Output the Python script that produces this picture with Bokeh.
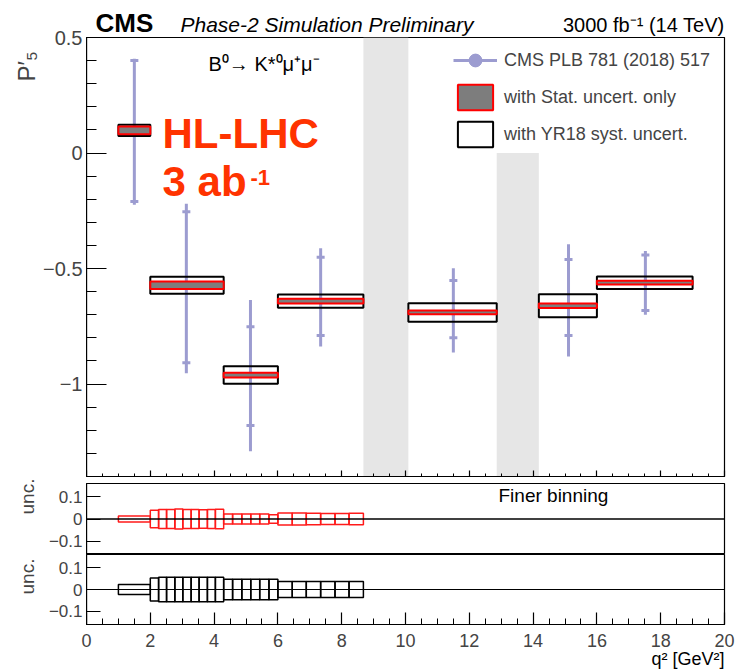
import numpy as np
from bokeh.plotting import figure
from bokeh.models import (Range1d, Label, Legend, LegendItem, Span,
                          FixedTicker, SingleIntervalTicker, CustomJSTickFormatter)
from bokeh.layouts import column, row
from bokeh.embed import file_html
from bokeh.resources import INLINE

FONT = "Liberation Sans"

# ---------------- data ----------------
# projected P5' measurement bins (q^2 in GeV^2)
bin_lo = [1.0, 2.0, 4.3, 6.0, 10.09, 14.18, 16.0]
bin_hi = [2.0, 4.3, 6.0, 8.68, 12.86, 16.0, 19.0]
p5_center = [0.098, -0.572, -0.961, -0.641, -0.690, -0.661, -0.561]
stat_half = [0.017, 0.016, 0.010, 0.010, 0.008, 0.010, 0.008]
syst_half = [0.024, 0.037, 0.038, 0.029, 0.040, 0.050, 0.027]

# CMS PLB 781 (2018) 517 measurement
cms_q2 = [1.50, 3.13, 5.14, 7.34, 11.50, 15.11, 17.52]
cms_p5 = [0.098, -0.572, -0.961, -0.641, -0.690, -0.661, -0.561]
cms_tot_hi = [0.408, -0.219, -0.636, -0.412, -0.499, -0.395, -0.424]
cms_tot_lo = [-0.224, -0.953, -1.291, -0.837, -0.863, -0.881, -0.700]
cms_stat_hi = [0.400, -0.254, -0.752, -0.451, -0.552, -0.461, -0.441]
cms_stat_lo = [-0.210, -0.908, -1.179, -0.790, -0.800, -0.790, -0.682]

# vetoed q^2 regions (J/psi, psi(2S))
veto_lo = [8.68, 12.86]
veto_hi = [10.09, 14.18]
veto_top = [0.5, 0.0]

# finer binning uncertainties
fine_edges = [1.0, 2.0, 2.26, 2.51, 2.77, 3.02, 3.28, 3.53, 3.79, 4.04, 4.3,
              4.58, 4.87, 5.15, 5.43, 5.72, 6.0, 6.45, 6.89, 7.34, 7.79, 8.23, 8.68]
fine_stat_unc = [0.014,
                 0.039, 0.043, 0.043, 0.045, 0.043, 0.043, 0.042, 0.043, 0.044,
                 0.023, 0.023, 0.023, 0.023, 0.023, 0.019,
                 0.027, 0.027, 0.026, 0.025, 0.025, 0.026]
fine_syst_unc = [0.023,
                 0.053, 0.056, 0.056, 0.056, 0.056, 0.056, 0.056, 0.056, 0.056,
                 0.047, 0.047, 0.047, 0.047, 0.047, 0.047,
                 0.037, 0.037, 0.037, 0.037, 0.037, 0.037]

x_ticks_interval = 2
main_major_ticks = [-1, -0.5, 0, 0.5]
sub_major_ticks = [-0.1, 0, 0.1]

CMS_C = "#9c9cd0"
minus_fmt = CustomJSTickFormatter(code='return (tick < 0 ? "\u2212" : "") + Math.abs(tick).toString();')
blank_fmt = CustomJSTickFormatter(code='return "";')

x_range = Range1d(0, 20)
y_main = Range1d(-1.4, 0.5)
y_stat = Range1d(-0.16, 0.16)
y_syst = Range1d(-0.16, 0.16)

STRIP_W = 40      # strip holding the rotated axis titles
AXLAB_W = 46      # strip holding the y tick labels
LEFT_W = STRIP_W + AXLAB_W   # = frame left edge (86 px)
RIGHT_W = 735 - LEFT_W
BORDER_R = 11
HEADER_H = 37
P1_H = 446        # frame 439 + 7
P2_H = 71
P3_H = 72         # frame 70 + 2
TOP_H = HEADER_H + P1_H + P2_H + P3_H
FOOT_H = 672 - TOP_H
MID_OFF = 0.36    # label anchor is the text middle: baseline = anchor + MID_OFF * size


def style_common(p):
    p.grid.visible = False
    p.outline_line_color = "black"
    p.outline_line_width = 1.2
    p.background_fill_color = "white"
    p.border_fill_color = "white"


def plain(p):
    p.grid.visible = False
    p.outline_line_color = None
    p.background_fill_color = "white"
    p.border_fill_color = "white"


def add_label(p, text, x, base_y, size, style="normal", color="black", align="left"):
    """Horizontal text; base_y: baseline height above the frame bottom."""
    p.add_layout(Label(x=x, y=base_y + MID_OFF * size, x_units="screen", y_units="screen",
                       text=text, text_font=FONT, text_font_size=f"{size}px",
                       text_font_style=style, text_color=color, text_align=align,
                       text_baseline="middle"))


def add_vlabel(p, text, cx, cy, size):
    """Text rotated by 90 degrees, centred on (cx, cy) measured from the frame bottom-left."""
    p.add_layout(Label(x=cx, y=cy, x_units="screen", y_units="screen", text=text,
                       text_font=FONT, text_font_size=f"{size}px", text_align="center",
                       text_baseline="middle", angle=np.pi / 2))


def text_strip(w, h):
    s = figure(width=w, height=h, x_range=Range1d(0, w), y_range=Range1d(0, h),
               output_backend="svg", toolbar_location=None,
               x_axis_location=None, y_axis_location=None,
               min_border=0, min_border_left=0, min_border_right=0,
               min_border_top=0, min_border_bottom=0)
    plain(s)
    return s


def ticks_only(ax, tick_in, minor_in, ticker):
    ax.ticker = ticker
    ax.formatter = blank_fmt
    ax.major_label_text_font_size = "1px"
    ax.major_label_standoff = 0
    ax.major_tick_in = tick_in
    ax.major_tick_out = 0
    ax.minor_tick_in = minor_in
    ax.minor_tick_out = 0
    ax.axis_line_width = 1.2
    ax.major_tick_line_width = 1.2
    if minor_in == 0:
        ax.minor_tick_line_color = None


def labels_only(ax, ticker, size, standoff):
    ax.ticker = ticker
    ax.formatter = minus_fmt
    ax.axis_line_color = None
    ax.major_tick_line_color = None
    ax.minor_tick_line_color = None
    ax.major_tick_in = 0
    ax.major_tick_out = 0
    ax.minor_tick_in = 0
    ax.minor_tick_out = 0
    ax.major_label_text_font = FONT
    ax.major_label_text_font_size = f"{size}px"
    ax.major_label_standoff = standoff


def ylabel_fig(height, y_range, top, bottom, ticker, size):
    f = figure(width=AXLAB_W, height=height, x_range=Range1d(0, 1), y_range=y_range,
               output_backend="svg", toolbar_location=None, x_axis_location=None,
               min_border_left=AXLAB_W - 1, min_border_right=0,
               min_border_top=top, min_border_bottom=bottom)
    plain(f)
    labels_only(f.yaxis[0], ticker, size, 3)
    return f


main_ticker = FixedTicker(ticks=main_major_ticks,
                          minor_ticks=[round(v, 1) for v in np.arange(-1.4, 0.51, 0.1)])
sub_ticker = FixedTicker(ticks=sub_major_ticks, minor_ticks=[])
x_ticker = SingleIntervalTicker(interval=x_ticks_interval, num_minor_ticks=4)

# ---------------- main panel ----------------
p1 = figure(width=RIGHT_W, height=P1_H, x_range=x_range, y_range=y_main,
            output_backend="svg", toolbar_location=None,
            min_border_left=0, min_border_right=BORDER_R, min_border_top=0,
            min_border_bottom=7)
style_common(p1)

p1.quad(left=veto_lo, right=veto_hi, top=veto_top, bottom=-1.4,
        fill_color="#e6e6e6", line_color=None)

seg_r = p1.segment(x0=cms_q2, y0=cms_tot_lo, x1=cms_q2, y1=cms_tot_hi,
                   line_color=CMS_C, line_width=3)
p1.scatter(x=cms_q2 + cms_q2, y=cms_stat_hi + cms_stat_lo, marker="dash", size=8,
           line_color=CMS_C, line_width=3)
cross_r = p1.scatter(x=cms_q2, y=cms_p5, marker="cross", size=8, line_color=CMS_C, line_width=3)
circ_r = p1.scatter(x=cms_q2, y=cms_p5, marker="circle", size=5, fill_color=CMS_C,
                    line_color=CMS_C)

c = np.array(p5_center)
syst_r = p1.quad(left=bin_lo, right=bin_hi, top=c + np.array(syst_half),
                 bottom=c - np.array(syst_half), fill_color=None, line_color="black",
                 line_width=2)
stat_r = p1.quad(left=bin_lo, right=bin_hi, top=c + np.array(stat_half),
                 bottom=c - np.array(stat_half), fill_color="#7d7d7d", line_color="#ff0000",
                 line_width=2)

legend = Legend(items=[LegendItem(label="CMS PLB 781 (2018) 517", renderers=[seg_r, cross_r, circ_r]),
                       LegendItem(label="with Stat. uncert. only", renderers=[stat_r]),
                       LegendItem(label="with YR18 syst. uncert.", renderers=[syst_r])],
                location=(367, 326), glyph_width=44, glyph_height=32, label_height=32,
                spacing=5, padding=0, margin=0, label_standoff=7,
                label_text_font=FONT, label_text_font_size="18px",
                border_line_color=None, background_fill_alpha=0)
p1.add_layout(legend)

ticks_only(p1.yaxis[0], 20, 10, main_ticker)
ticks_only(p1.xaxis[0], 6, 3, x_ticker)

F1 = HEADER_H + 439  # page y of the main frame bottom
add_label(p1, "B\u2070\u2192 K*\u2070\u03bc\u207a\u03bc\u207b", 122, F1 - 71, 20)
add_label(p1, "HL-LHC", 76, F1 - 148, 42, style="bold", color="#ff3300")
add_label(p1, "3 ab", 76, F1 - 196, 42, style="bold", color="#ff3300")
add_label(p1, "-1", 164, F1 - 185, 22, style="bold", color="#ff3300")


# ---------------- ratio panels ----------------
def sub_panel(height, y_range, border_bottom, with_xaxis):
    p = figure(width=RIGHT_W, height=height, x_range=x_range, y_range=y_range,
               output_backend="svg", toolbar_location=None,
               x_axis_location=("below" if with_xaxis else None),
               min_border_left=0, min_border_right=BORDER_R, min_border_top=0,
               min_border_bottom=border_bottom)
    style_common(p)
    ticks_only(p.yaxis[0], 14, 0, sub_ticker)
    return p


fl = fine_edges[:-1]
fr = fine_edges[1:]

p2 = sub_panel(P2_H, y_stat, 0, False)
p2.quad(left=fl, right=fr, top=fine_stat_unc, bottom=[-u for u in fine_stat_unc],
        fill_color=None, line_color="#ff1a1a", line_width=1.5)
p2.add_layout(Span(location=0, dimension="width", line_color="black", line_width=1.5))
add_label(p2, "Finer binning", 412, 554 - 502, 19)

p3 = sub_panel(P3_H, y_syst, P3_H - 70, True)
p3.quad(left=fl, right=fr, top=fine_syst_unc, bottom=[-u for u in fine_syst_unc],
        fill_color=None, line_color="black", line_width=1.5)
p3.add_layout(Span(location=0, dimension="width", line_color="black", line_width=1.2))
ticks_only(p3.xaxis[0], 12, 6, x_ticker)

# ---------------- header ----------------
header = text_strip(RIGHT_W, HEADER_H)
add_label(header, "CMS", 95 - LEFT_W, HEADER_H - 31.5, 26, style="bold")
add_label(header, "Phase-2 Simulation Preliminary", 180 - LEFT_W, HEADER_H - 31.5, 21,
          style="italic")
add_label(header, "3000 fb\u207b\u00b9 (14 TeV)", 724 - LEFT_W, HEADER_H - 31.5, 20,
          align="right")

# ---------------- left side: axis titles and tick labels ----------------
titles = text_strip(STRIP_W, TOP_H)
add_vlabel(titles, "P\u2032\u2085", 26, TOP_H - 66, 24)
add_vlabel(titles, "unc.", 27, TOP_H - 496, 19)
add_vlabel(titles, "unc.", 27, TOP_H - 576, 19)

yl1 = ylabel_fig(HEADER_H + P1_H, y_main, HEADER_H, 7, main_ticker, 20)
yl2 = ylabel_fig(P2_H, y_stat, 0, 0, sub_ticker, 17)
yl3 = ylabel_fig(P3_H, y_syst, 0, P3_H - 70, sub_ticker, 17)

# ---------------- footer: x tick labels and x title ----------------
FOOT_FRAME_TOP = 650 - TOP_H
footer = figure(width=735, height=FOOT_H, x_range=x_range, y_range=Range1d(0, 1),
                output_backend="svg", toolbar_location=None,
                x_axis_location="above", y_axis_location=None,
                min_border_left=LEFT_W, min_border_right=BORDER_R,
                min_border_top=FOOT_FRAME_TOP, min_border_bottom=0)
plain(footer)
labels_only(footer.xaxis[0], x_ticker, 18, 4)
footer.xaxis[0].formatter = CustomJSTickFormatter(code='return tick.toString();')
add_label(footer, "q\u00b2 [GeV\u00b2]", 724 - LEFT_W, 672 - 665, 18, align="right")

left_block = row(titles, column(yl1, yl2, yl3, spacing=0), spacing=0)
right_block = column(header, p1, p2, p3, spacing=0)
layout = column(row(left_block, right_block, spacing=0), footer, spacing=0)
open("out.html", "w").write(file_html(layout, INLINE))
